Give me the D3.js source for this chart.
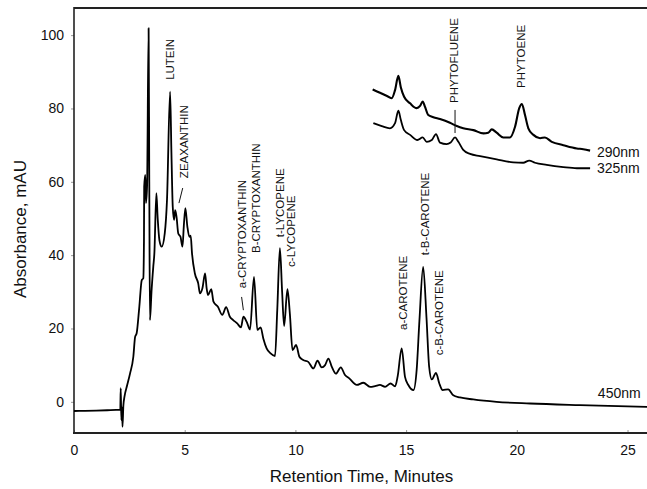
<!DOCTYPE html>
<html>
<head>
<meta charset="utf-8">
<script src="https://cdn.jsdelivr.net/npm/d3@7"></script>
<style>
  html, body { margin: 0; padding: 0; background: #fff; }
  svg { display: block; font-family: "Liberation Sans", Arial, sans-serif; }
</style>
</head>
<body>
<svg id="chart" width="647" height="489"></svg>
<script>
// ---- data (time in minutes, absorbance in mAU) ----
const xTicks = [0, 5, 10, 15, 20, 25];
const yTicks = [0, 20, 40, 60, 80, 100];

const trace450 = [
  [0, -2.5], [0.5, -2.45], [1.0, -2.4], [1.5, -2.3], [1.9, -2.2], [2.09, -2.2],
  [2.11, 3.7], [2.14, -5.0], [2.17, -1.5], [2.19, -6.8], [2.23, -1.0], [2.28, 1.4],
  [2.4, 4.5], [2.53, 7.7], [2.68, 12.3], [2.76, 17.7], [2.83, 18.7], [2.95, 25.9],
  [3.06, 33.2], [3.13, 33.7], [3.16, 44], [3.17, 58.7], [3.22, 61.9], [3.25, 54.2],
  [3.30, 58.7], [3.37, 101.9], [3.40, 60], [3.43, 22.3], [3.50, 30], [3.58, 36.8],
  [3.63, 40.5], [3.72, 56.9], [3.78, 50], [3.86, 44], [3.96, 42.3], [4.10, 46],
  [4.2, 55], [4.34, 84.6], [4.40, 68], [4.46, 53.2], [4.52, 49.6], [4.57, 52.3],
  [4.63, 50.5], [4.71, 45.9], [4.81, 45], [4.90, 42.3], [4.96, 48], [5.03, 52.8],
  [5.12, 47.8], [5.21, 45], [5.27, 45.3], [5.33, 40.5], [5.46, 35], [5.61, 32.3],
  [5.69, 29.6], [5.80, 31], [5.92, 35], [5.99, 31], [6.05, 29.1], [6.20, 30.7],
  [6.30, 27.3], [6.50, 25.9], [6.70, 23.7], [6.87, 25.8], [7.04, 23.2], [7.19, 22.3],
  [7.37, 21.4], [7.54, 20.3], [7.65, 23.2], [7.80, 21.8], [7.95, 19.7], [8.13, 34.1],
  [8.28, 19.6], [8.43, 20.3], [8.55, 17.3], [8.70, 14.6], [8.88, 13.2], [9.08, 12.5],
  [9.18, 25], [9.30, 41.9], [9.40, 30], [9.49, 20.7], [9.64, 30.7], [9.75, 24],
  [9.87, 14.1], [10.03, 15.5], [10.18, 12.3], [10.35, 11.4], [10.58, 10.9], [10.81, 9.1],
  [11.0, 11.2], [11.19, 9.4], [11.34, 10.0], [11.49, 11.8], [11.64, 9.6], [11.83, 7.7],
  [12.05, 9.4], [12.24, 7.3], [12.43, 6.4], [12.77, 4.6], [13.07, 5.2], [13.37, 4.1],
  [13.60, 4.3], [13.82, 4.6], [14.05, 4.1], [14.3, 5.0], [14.5, 4.2], [14.62, 7],
  [14.8, 14.6], [14.95, 6.8], [15.1, 4.6], [15.33, 3.2], [15.48, 9], [15.6, 22],
  [15.77, 36.8], [15.92, 23], [16.04, 9.6], [16.16, 6.1], [16.35, 7.9], [16.5, 5.0],
  [16.65, 3.2], [16.9, 3.4], [17.13, 1.8], [17.43, 1.2], [18.03, 0.65], [19.08, 0],
  [20.6, -0.45], [22.85, -0.9], [25.9, -1.4]
];

const trace290 = [
  [13.49, 85.2], [13.82, 84.3], [14.20, 83.2], [14.35, 82.8], [14.50, 85.0], [14.65, 88.9],
  [14.76, 85.8], [14.91, 83.2], [15.18, 81.4], [15.48, 80.1], [15.63, 80.7], [15.75, 81.9],
  [15.85, 80.5], [16.0, 78.2], [16.23, 77.6], [16.53, 77.1], [16.98, 76.1], [17.29, 75.2],
  [17.58, 74.6], [18.04, 74.1], [18.49, 73.2], [18.71, 73.4], [18.87, 74.3], [19.09, 73.4],
  [19.39, 72.1], [19.69, 72.1], [19.92, 75.0], [20.11, 80.1], [20.23, 81.2], [20.37, 78.2],
  [20.52, 74.6], [20.75, 72.8], [21.05, 71.9], [21.27, 72.1], [21.58, 70.9], [22.1, 70.0],
  [22.71, 69.1], [23.0, 68.9], [23.31, 68.5]
];

const trace325 = [
  [13.52, 76.0], [13.90, 75.2], [14.27, 74.6], [14.50, 76.0], [14.65, 79.4], [14.76, 76.9],
  [14.91, 74.1], [15.18, 72.8], [15.51, 71.4], [15.75, 72.1], [15.93, 70.9], [16.16, 71.4],
  [16.35, 73.0], [16.53, 70.7], [16.83, 70.3], [17.01, 70.7], [17.21, 72.1], [17.36, 70.9],
  [17.58, 68.7], [17.89, 67.6], [18.34, 67.0], [19.09, 66.1], [19.84, 65.3], [20.29, 65.2],
  [20.56, 65.8], [20.82, 65.2], [21.35, 64.6], [22.10, 64.0], [22.71, 63.7], [23.31, 63.7]
];

// peak labels: name, retention time, absorbance at label start
const peakNames = ["LUTEIN", "ZEAXANTHIN", "a-CRYPTOXANTHIN", "B-CRYPTOXANTHIN", "t-LYCOPENE",
  "c-LYCOPENE", "a-CAROTENE", "t-B-CAROTENE", "c-B-CAROTENE", "PHYTOFLUENE", "PHYTOENE"];
const peakTimes = [4.31, 4.97, 7.57, 8.22, 9.30, 9.80, 14.86, 15.85, 16.49, 17.16, 20.19];
const peakLabelY = [87.8, 61.0, 31.0, 40.6, 44.9, 36.8, 19.6, 40.0, 12.7, 81.5, 85.6];

// leader lines [t1, v1, t2, v2]
const leaders = [
  [4.91, 58.3, 4.74, 54.2],
  [7.57, 28.6, 7.65, 25.0],
  [17.21, 79.6, 17.21, 73.3]
];

const waveNames = ["290nm", "325nm", "450nm"];
const waveTimes = [23.62, 23.62, 23.66];
const waveY = [68.2, 63.7, 2.5];

// ---- drawing ----
const svg = d3.select("#chart");
const mLeft = 74, mRight = 647, mTop = 8, mBottom = 433;

const x = d3.scaleLinear().domain([0, 25.88]).range([mLeft, mRight]);
const y = d3.scaleLinear().domain([-8.5, 107.4]).range([mBottom, mTop]);

// axes
const xAxis = d3.axisBottom(x).tickValues(xTicks).tickSizeInner(-3).tickSizeOuter(0).tickPadding(12);
const gx = svg.append("g").attr("transform", `translate(0,${mBottom})`).call(xAxis);
gx.select(".domain").remove();
gx.selectAll(".tick line").attr("stroke", "#999");
gx.selectAll(".tick text").attr("font-size", 14).attr("fill", "#111")
  .attr("font-family", "Liberation Sans, Arial, sans-serif");

const yAxis = d3.axisLeft(y).tickValues(yTicks).tickSizeInner(3).tickSizeOuter(0).tickPadding(7);
const gy = svg.append("g").attr("transform", `translate(${mLeft},0)`).call(yAxis);
gy.select(".domain").remove();
gy.selectAll(".tick line").attr("stroke", "#999");
gy.selectAll(".tick text").attr("font-size", 14).attr("fill", "#111")
  .attr("font-family", "Liberation Sans, Arial, sans-serif");

// frame lines
svg.append("line").attr("x1", mLeft).attr("x2", mRight).attr("y1", mTop).attr("y2", mTop)
  .attr("stroke", "#222").attr("stroke-width", 2);
svg.append("line").attr("x1", mLeft).attr("x2", mLeft).attr("y1", mTop - 1).attr("y2", mBottom + 1)
  .attr("stroke", "#222").attr("stroke-width", 1.6);
svg.append("line").attr("x1", mLeft - 1).attr("x2", mRight).attr("y1", mBottom).attr("y2", mBottom)
  .attr("stroke", "#222").attr("stroke-width", 1.8);

// axis titles
svg.append("text").attr("x", 361.5).attr("y", 481.5)
  .attr("text-anchor", "middle").attr("font-size", 17).attr("fill", "#111")
  .text("Retention Time, Minutes");
svg.append("text").attr("transform", "translate(25.5,229) rotate(-90)")
  .attr("text-anchor", "middle").attr("font-size", 17).attr("fill", "#111")
  .text("Absorbance, mAU");

// traces
const line = d3.line().x(d => x(d[0])).y(d => y(d[1])).curve(d3.curveMonotoneX);
const traces = [trace450, trace290, trace325];
svg.append("g").selectAll("path").data(traces).join("path")
  .attr("d", line).attr("fill", "none").attr("stroke", "#000")
  .attr("stroke-width", (d, i) => i === 1 ? 2.1 : 1.8).attr("stroke-linejoin", "round");

// leader lines
svg.append("g").selectAll("line").data(leaders).join("line")
  .attr("x1", d => x(d[0])).attr("y1", d => y(d[1]))
  .attr("x2", d => x(d[2])).attr("y2", d => y(d[3]))
  .attr("stroke", "#111").attr("stroke-width", 1);

// peak labels
svg.append("g").selectAll("text").data(peakNames).join("text")
  .attr("transform", (d, i) => `translate(${x(peakTimes[i])},${y(peakLabelY[i])}) rotate(-90)`)
  .attr("dy", "0.36em").attr("text-anchor", "start")
  .attr("font-size", 11.5).attr("fill", "#111")
  .text(d => d);

// wavelength labels
svg.append("g").selectAll("text").data(waveNames).join("text")
  .attr("x", (d, i) => x(waveTimes[i])).attr("y", (d, i) => y(waveY[i]))
  .attr("dy", "0.36em").attr("font-size", 14).attr("fill", "#111")
  .text(d => d);
</script>
</body>
</html>
